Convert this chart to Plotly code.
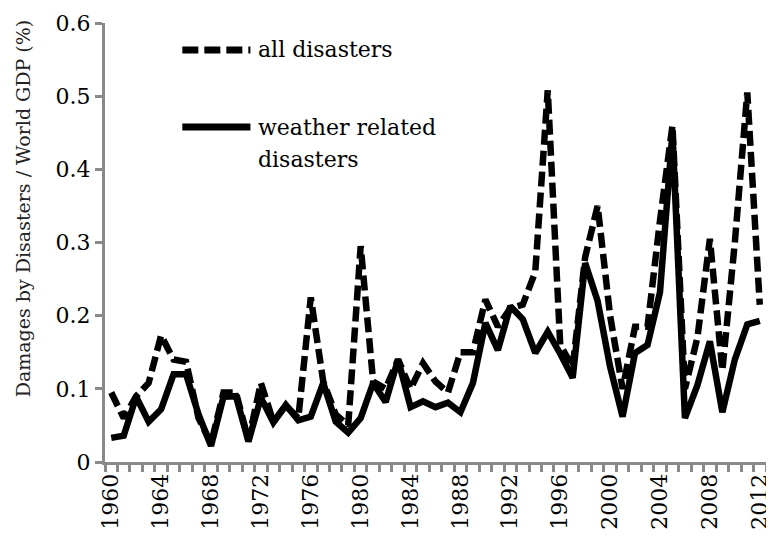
import plotly.graph_objects as go

years = list(range(1960, 2013))

all_disasters = [
    0.095, 0.060, 0.090, 0.108, 0.173, 0.140, 0.137, 0.060, 0.025, 0.095,  # 1960-1969
    0.095, 0.030, 0.108, 0.055, 0.077, 0.060, 0.225, 0.110, 0.065, 0.050,  # 1970-1979
    0.295, 0.110, 0.100, 0.140, 0.100, 0.135, 0.110, 0.095, 0.150, 0.150,  # 1980-1989
    0.222, 0.185, 0.210, 0.215, 0.260, 0.508, 0.160, 0.130, 0.280, 0.350,  # 1990-1999
    0.200, 0.100, 0.185, 0.185, 0.330, 0.460, 0.100, 0.170, 0.305, 0.125,  # 2000-2009
    0.300, 0.505, 0.215,                                                   # 2010-2012
]

weather_related = [
    0.033, 0.036, 0.089, 0.055, 0.072, 0.120, 0.120, 0.065, 0.022, 0.089,  # 1960-1969
    0.090, 0.028, 0.088, 0.054, 0.078, 0.057, 0.062, 0.108, 0.055, 0.040,  # 1970-1979
    0.060, 0.108, 0.082, 0.140, 0.075, 0.083, 0.075, 0.081, 0.068, 0.108,  # 1980-1989
    0.190, 0.153, 0.213, 0.195, 0.149, 0.178, 0.148, 0.115, 0.272, 0.220,  # 1990-1999
    0.130, 0.062, 0.149, 0.160, 0.232, 0.450, 0.060, 0.105, 0.165, 0.068,  # 2000-2009
    0.140, 0.188, 0.193,                                                   # 2010-2012
]

label_years = list(range(1960, 2013, 4))
y_ticks = [0, 0.1, 0.2, 0.3, 0.4, 0.5, 0.6]
y_tick_text = ["0", "0.1", "0.2", "0.3", "0.4", "0.5", "0.6"]

FONT = "DejaVu Serif"
AXIS_GRAY = "#8a8a8a"

fig = go.Figure()
fig.add_trace(go.Scatter(
    x=years, y=all_disasters, mode="lines", name="all disasters",
    line=dict(color="black", width=6.5, dash="15px,6px"),
))
fig.add_trace(go.Scatter(
    x=years, y=weather_related, mode="lines", name="weather related disasters",
    line=dict(color="black", width=6.5),
))

# legend drawn manually to match the long line samples
legend_x0, legend_x1, text_x = 0.117, 0.220, 0.229
fig.add_shape(type="line", xref="paper", yref="paper",
              x0=legend_x0, x1=legend_x1, y0=0.9385, y1=0.9385,
              line=dict(color="black", width=7, dash="16px,6px"))
fig.add_shape(type="line", xref="paper", yref="paper",
              x0=legend_x0, x1=legend_x1, y0=0.763, y1=0.763,
              line=dict(color="black", width=7))
fig.add_annotation(xref="paper", yref="paper", x=text_x, y=0.9385,
                   text="all disasters", showarrow=False,
                   xanchor="left", yanchor="middle",
                   font=dict(family=FONT, size=22, color="black"))
fig.add_annotation(xref="paper", yref="paper", x=text_x, y=0.763,
                   text="weather related", showarrow=False,
                   xanchor="left", yanchor="middle",
                   font=dict(family=FONT, size=22, color="black"))
fig.add_annotation(xref="paper", yref="paper", x=text_x, y=0.688,
                   text="disasters", showarrow=False,
                   xanchor="left", yanchor="middle",
                   font=dict(family=FONT, size=22, color="black"))

# y-axis title
fig.add_annotation(xref="paper", yref="paper", x=-0.124, y=0.578,
                   text="Damages by Disasters / World GDP (%)", showarrow=False,
                   textangle=-90, xanchor="center", yanchor="middle",
                   font=dict(family=FONT, size=19, color="#222222"))

# the page places the figure 8px from the window's top-left corner
fig.update_layout(
    width=766, height=531,
    margin=dict(l=97, r=2, t=15, b=77),
    paper_bgcolor="white", plot_bgcolor="white",
    showlegend=False,
    font=dict(family=FONT, size=22, color="black"),
)

fig.update_xaxes(
    range=[1959.5, 2012.5],
    tickmode="array", tickvals=label_years, ticktext=[str(y) for y in label_years],
    tickangle=-90, ticks="", showgrid=False, zeroline=False,
    showline=True, linecolor=AXIS_GRAY, linewidth=3,
    ticklabeloverflow="allow",
    tickfont=dict(family=FONT, size=22, color="black"),
    minor=dict(tickmode="array", tickvals=[y - 0.5 for y in years] + [2012.5],
               ticks="outside", ticklen=7, tickwidth=3, tickcolor=AXIS_GRAY,
               showgrid=False),
)
fig.update_yaxes(
    range=[0, 0.6], tickmode="array", tickvals=y_ticks, ticktext=y_tick_text,
    ticks="outside", ticklen=7, tickwidth=3, tickcolor=AXIS_GRAY,
    showgrid=False, zeroline=False,
    showline=True, linecolor=AXIS_GRAY, linewidth=3,
    tickfont=dict(family=FONT, size=22, color="black"),
)

fig.write_html("out.html")
